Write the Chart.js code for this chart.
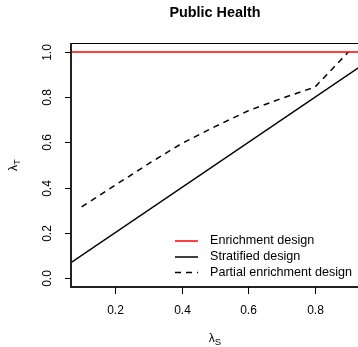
<!DOCTYPE html>
<html>
<head>
<meta charset="utf-8">
<script src="https://cdn.jsdelivr.net/npm/chart.js@4/dist/chart.umd.min.js"></script>
<style>
  html, body { margin: 0; padding: 0; background: #fff; overflow: hidden; }
  #wrap { width: 362px; height: 347px; }
</style>
</head>
<body>
<div id="wrap"><canvas id="c" width="362" height="347"></canvas></div>
<script>
// lambda_S grid for the partial enrichment curve
const lambdaS = [0.1, 0.2, 0.3, 0.4, 0.5, 0.6, 0.7, 0.8, 0.9];
const partialT = [0.315, 0.41, 0.505, 0.595, 0.67, 0.74, 0.795, 0.845, 1.0];
// reference lines spanning the whole panel
const enrichX = [0, 1];
const enrichY = [1, 1];
const stratX = [0, 1];
const stratY = [0, 1];

const xTicks = [0.2, 0.4, 0.6, 0.8];
const yTicks = [0.0, 0.2, 0.4, 0.6, 0.8, 1.0];
const seriesNames = ['Enrichment design', 'Stratified design', 'Partial enrichment design'];
const titleText = 'Public Health';

const pts = (xs, ys) => xs.map((x, i) => ({ x: x, y: ys[i] }));
const FONT = '"Liberation Sans", Arial, Helvetica, sans-serif';

const dashes = [6, 5];
const styles = [
  { color: '#ff0000', dash: [] },
  { color: '#000000', dash: [] },
  { color: '#000000', dash: dashes }
];

// R-style frame, ticks, labels and legend drawn on the chart's scales
const basePlot = {
  id: 'basePlot',
  afterDraw(chart) {
    const ctx = chart.ctx;
    const a = chart.chartArea;
    const xs = chart.scales.x, ys = chart.scales.y;
    const L = Math.round(a.left), T = Math.round(a.top);
    const R = Math.round(a.right), B = Math.round(a.bottom);
    ctx.save();
    ctx.strokeStyle = '#000';
    ctx.fillStyle = '#000';
    // box
    ctx.lineWidth = 1;
    ctx.strokeRect(L + 0.5, T + 0.5, R - L, B - T);
    // heavier axis lines on the left and bottom
    ctx.fillStyle = '#222';
    ctx.fillRect(L - 1, T, 2, B - T + 1);
    ctx.fillRect(L - 1, B - 1, R - L + 4, 2);
    ctx.fillStyle = '#000';
    // x ticks + labels
    ctx.font = '12px ' + FONT;
    ctx.textAlign = 'center';
    ctx.textBaseline = 'middle';
    xTicks.forEach(v => {
      const px = Math.round(xs.getPixelForValue(v)) + 0.5;
      ctx.beginPath();
      ctx.moveTo(px, B);
      ctx.lineTo(px, B + 7);
      ctx.stroke();
      ctx.fillText(v.toFixed(1), px, B + 24);
    });
    // y ticks + rotated labels
    yTicks.forEach(v => {
      const py = Math.round(ys.getPixelForValue(v)) + 0.5;
      ctx.beginPath();
      ctx.moveTo(L, py);
      ctx.lineTo(L - 6, py);
      ctx.stroke();
      ctx.save();
      ctx.translate(L - 23, py);
      ctx.rotate(-Math.PI / 2);
      ctx.fillText(v.toFixed(1), 0, 0);
      ctx.restore();
    });
    // axis titles with subscripts
    const sub = (main, s, cx, cy) => {
      ctx.font = '12px ' + FONT;
      const w1 = ctx.measureText(main).width;
      ctx.font = '9.5px ' + FONT;
      const w2 = ctx.measureText(s).width;
      const x0 = cx - (w1 + w2) / 2;
      ctx.textAlign = 'left';
      ctx.textBaseline = 'alphabetic';
      ctx.font = '12px ' + FONT;
      ctx.fillText(main, x0, cy + 4);
      ctx.font = '9.5px ' + FONT;
      ctx.fillText(s, x0 + w1, cy + 7);
    };
    const cx = (a.left + a.right) / 2;
    sub('λ', 'S', cx, 338);
    ctx.save();
    ctx.translate(15, (a.top + a.bottom) / 2);
    ctx.rotate(-Math.PI / 2);
    sub('λ', 'T', 0, -2);
    ctx.restore();
    // title
    ctx.font = 'bold 14.4px ' + FONT;
    ctx.textAlign = 'center';
    ctx.textBaseline = 'middle';
    ctx.fillText(titleText, cx, 13);
    // legend
    const rows = [241, 257, 272.5];
    ctx.font = '12.6px ' + FONT;
    ctx.textAlign = 'left';
    rows.forEach((ry, i) => {
      ctx.strokeStyle = styles[i].color;
      ctx.lineWidth = 1.5;
      ctx.setLineDash(styles[i].dash);
      ctx.beginPath();
      ctx.moveTo(175, ry);
      ctx.lineTo(198, ry);
      ctx.stroke();
      ctx.setLineDash([]);
      ctx.fillStyle = '#000';
      ctx.fillText(seriesNames[i], 210, ry);
    });
    ctx.restore();
  }
};

new Chart(document.getElementById('c'), {
  type: 'line',
  data: {
    datasets: [
      { label: seriesNames[0], data: pts(enrichX, enrichY), borderColor: styles[0].color, borderWidth: 1.5 },
      { label: seriesNames[1], data: pts(stratX, stratY), borderColor: styles[1].color, borderWidth: 1.5 },
      { label: seriesNames[2], data: pts(lambdaS, partialT), borderColor: styles[2].color, borderWidth: 1.5, borderDash: styles[2].dash }
    ]
  },
  options: {
    responsive: false,
    animation: false,
    devicePixelRatio: 1,
    layout: { padding: { left: 71, top: 43, right: 3, bottom: 60 } },
    elements: { point: { radius: 0 }, line: { tension: 0, fill: false } },
    plugins: { legend: { display: false }, title: { display: false }, tooltip: { enabled: false } },
    scales: {
      x: { type: 'linear', min: 0.068, max: 0.932, display: false },
      y: { type: 'linear', min: -0.04, max: 1.04, display: false }
    }
  },
  plugins: [basePlot]
});
</script>
</body>
</html>
